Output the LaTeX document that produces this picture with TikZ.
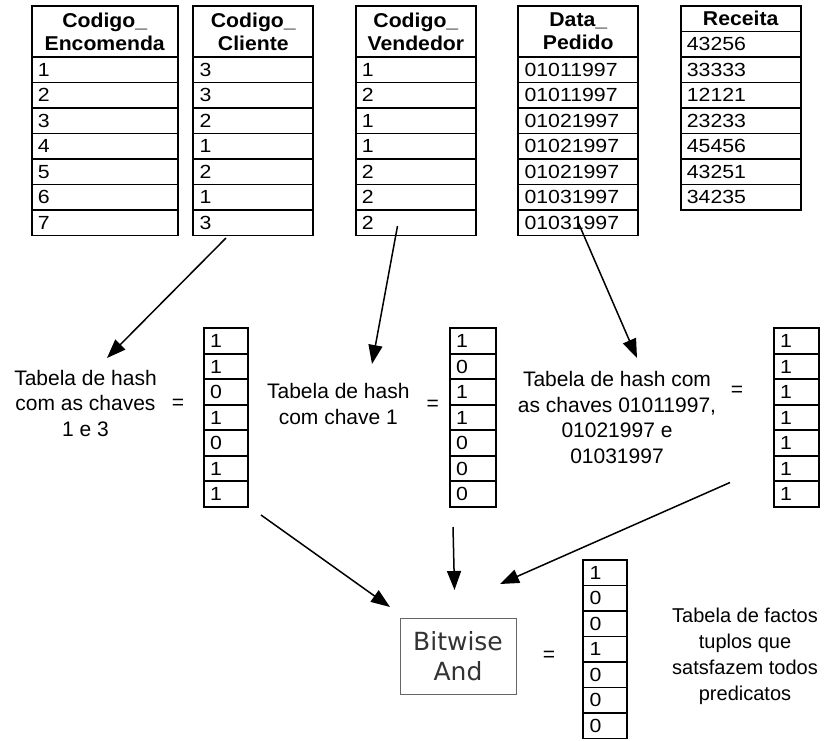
\documentclass[tikz,border=0pt]{standalone}
\usepackage{fontspec}
\setmainfont{Liberation Sans}
\newfontfamily\cellfont[FakeStretch=1.12]{Liberation Sans}
\newfontfamily\headfont[FakeStretch=1.06]{Liberation Sans}
\newfontfamily\boxfont{DejaVu Sans}
\usetikzlibrary{arrows.meta}

\tikzset{
  grid/.style={draw=black, line width=1.7pt},
  cell/.style={anchor=base west, inner sep=0pt, font=\cellfont\fontsize{19}{20}\selectfont},
  head/.style={align=center, inner sep=0pt, font=\headfont\bfseries\fontsize{20}{23}\selectfont},
  hashlabel/.style={align=center, anchor=north, inner sep=0pt, font=\fontsize{21}{25.5}\selectfont},
  eqsign/.style={inner sep=0pt, font=\fontsize{21}{21}\selectfont},
  opbox/.style={draw=black!60, line width=1pt, minimum width=116pt, minimum height=76pt,
    align=center, inner sep=0pt, text=black!80, font=\boxfont\fontsize{25}{30}\selectfont},
  link/.style={line width=1.5pt, -{Triangle[length=19pt,width=14pt]}}
}

\def\rowh{25.5}

% database column: name, left, right, top, header bottom, header text, values
\newcommand\dbcolumn[7]{%
  \draw[grid] (#2,#4) rectangle (#3,{#5+7*\rowh});
  \node[head] (#1-head) at ({(#2+#3)/2},{(#4+#5)/2}) {#6};
  \foreach \v [count=\i from 0] in {#7} {
    \draw[grid] (#2,{#5+\i*\rowh}) -- (#3,{#5+\i*\rowh});
    \node[cell] (#1-\i) at ({#2+6},{#5+(\i+0.5)*\rowh+6.7}) {\v};
  }%
}

% bit vector: name, left, right, top, values
\newcommand\bitvector[5]{%
  \draw[grid] (#2,#4) rectangle (#3,{#4+7*\rowh});
  \foreach \v [count=\i from 0] in {#5} {
    \draw[grid] (#2,{#4+\i*\rowh}) -- (#3,{#4+\i*\rowh});
    \node[cell] (#1-\i) at ({#2+6},{#4+(\i+0.5)*\rowh+6.7}) {\v};
  }%
}

\begin{document}
\begin{tikzpicture}[x=1pt,y=-1pt]
\useasboundingbox (0,0) rectangle (840,740);

% fact table columns
\dbcolumn{enc}{31.7}{177.7}{6}{57}{Codigo\_\\Encomenda}{1,2,3,4,5,6,7}
\dbcolumn{cli}{193.3}{313.3}{6}{57}{Codigo\_\\Cliente}{3,3,2,1,2,1,3}
\dbcolumn{ven}{355.7}{476}{6}{57}{Codigo\_\\Vendedor}{1,2,1,1,2,2,2}
\dbcolumn{dat}{518.3}{638.3}{6}{57}{Data\_\\Pedido}{01011997,01011997,01021997,01021997,01021997,01031997,01031997}
\dbcolumn{rec}{680.7}{800.7}{6}{31.5}{Receita}{43256,33333,12121,23233,45456,43251,34235}

% hash tables
\node[hashlabel] (hash1) at (85.5,369.7) {Tabela de hash\\com as chaves\\1 e 3};
\node[eqsign] (eq1) at (178,404) {=};
\bitvector{bv1}{204}{248.3}{328.3}{1,1,0,1,0,1,1}

\node[hashlabel] (hash2) at (338.3,383.4) {Tabela de hash\\com chave 1};
\node[eqsign] (eq2) at (432.7,405) {=};
\bitvector{bv2}{450}{496}{328.3}{1,0,1,1,0,0,0}

\node[hashlabel] (hash3) at (617,371.4) {Tabela de hash com\\as chaves 01011997,\\01021997 e\\01031997};
\node[eqsign] (eq3) at (737,391) {=};
\bitvector{bv3}{774}{819}{328.3}{1,1,1,1,1,1,1}

% bitwise combination
\node[opbox] (and) at (458,656.3) {Bitwise\\And};
\node[eqsign] (eq4) at (549,656) {=};
\bitvector{res}{583.3}{626.7}{560}{1,0,0,1,0,0,0}
\node[hashlabel, font=\fontsize{20}{26}\selectfont] (facts) at (745,607.3)
  {Tabela de factos\\tuplos que\\satsfazem todos\\predicatos};

% connector end points
\coordinate (cli-out) at (226,238);
\coordinate (ven-out) at (397.5,226);
\coordinate (dat-out) at (578,222);
\coordinate (hash1-in) at (107,358);
\coordinate (hash2-in) at (372,364);
\coordinate (hash3-in) at (637,358);
\coordinate (bv1-out) at (261,515);
\coordinate (bv2-out) at (453,527);
\coordinate (bv3-out) at (730,482.5);
\coordinate (and-in1) at (390,607);
\coordinate (and-in2) at (454.5,590);
\coordinate (and-in3) at (500,584);

\draw[link] (cli-out) -- (hash1-in);
\draw[link] (ven-out) -- (hash2-in);
\draw[link] (dat-out) -- (hash3-in);
\draw[link] (bv1-out) -- (and-in1);
\draw[link] (bv2-out) -- (and-in2);
\draw[link] (bv3-out) -- (and-in3);
\end{tikzpicture}
\end{document}
